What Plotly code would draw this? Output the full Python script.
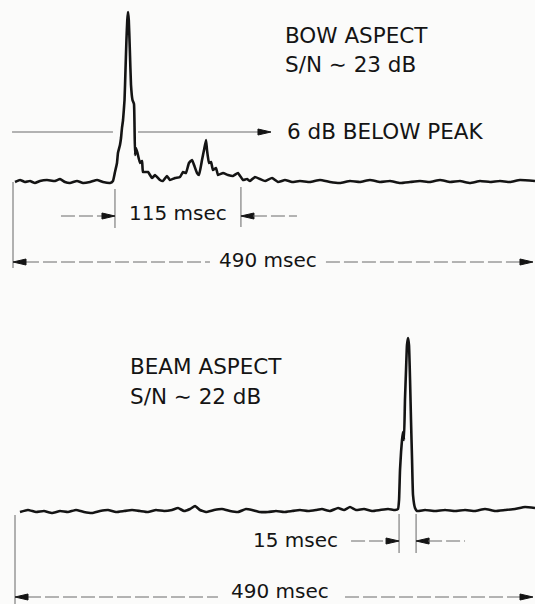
import plotly.graph_objects as go

# ---------------- data ----------------
# Bow aspect echo envelope (time in msec, amplitude in arbitrary units)
bow_t = [1.9, 6.6, 11.3, 16.0, 20.7, 25.4, 32.0, 39.6, 44.3, 49.0, 53.7, 60.3, 66.0, 72.6,
         79.2, 84.8, 91.4, 94.2, 96.1, 98.0, 98.9, 100.8, 101.8, 102.7, 103.7, 105.1, 106.0,
         106.9, 107.7, 108.4, 109.1, 110.1, 111.2, 112.6, 114.0, 114.5, 115.0, 115.9, 117.3,
         119.7, 121.6, 122.5, 127.2, 131.0, 133.8, 138.5, 141.3, 145.1, 147.9, 152.7, 157.4,
         160.2, 163.0, 165.8, 168.7, 170.6, 173.4, 175.3, 178.1, 180.0, 181.9, 182.8, 184.7,
         186.6, 188.4, 191.3, 193.2, 197.9, 202.6, 207.3, 212.0, 216.7, 220.5, 223.3, 228.0,
         232.7, 237.5, 244.1, 249.7, 256.3, 262.9, 270.4, 279.9, 289.3, 298.7, 308.1, 317.6,
         327.0, 336.4, 345.8, 355.2, 364.7, 374.1, 383.5, 392.9, 402.4, 411.8, 421.2, 430.6,
         440.1, 449.5, 458.9, 468.3, 477.7, 491.9]
bow_amp = [0, 2, 0, 1, -1, 1, 2, 1, 3, 0, -1, 1, -1, 0,
           2, 0, -1, 1, 10, 19, 29, 37, 44, 54, 62, 82, 112,
           142, 162, 170, 162, 132, 97, 82, 78, 57, 27, 34, 29,
           19, 21, 10, 10, 4, 7, 2, 1, 6, 2, 4, 5,
           10, 9, 19, 22, 17, 9, 7, 22, 32, 42, 32, 19,
           20, 12, 14, 7, 9, 7, 6, 9, 2, 3, 1, 5,
           3, 1, 4, 0, 2, 0, 1, 0, 2, 0, -1, 1,
           0, 2, 0, 1, -1, 0, 1, 0, 2, 0, 1, -1,
           1, 0, 1, 0, 2, 1]

# Beam aspect echo envelope
beam_t = [4.7, 12.3, 19.9, 27.4, 35.0, 42.6, 50.1, 57.7, 65.3, 72.8, 80.4, 88.0, 95.5, 103.1,
          110.7, 118.3, 125.8, 133.4, 141.0, 148.5, 154.2, 159.9, 165.6, 170.3, 175.0, 180.7,
          188.3, 195.8, 203.4, 211.0, 218.5, 224.2, 231.8, 239.4, 246.9, 254.5, 262.0, 269.6,
          277.2, 284.7, 290.4, 298.0, 305.6, 311.2, 316.9, 322.6, 330.2, 337.7, 345.3, 352.9,
          359.5, 362.3, 363.3, 364.2, 365.2, 366.1, 367.0, 368.0, 368.9, 369.9, 370.8, 371.8,
          372.7, 373.7, 374.6, 375.6, 376.5, 378.4, 380.3, 387.9, 397.3, 406.8, 416.2, 425.7,
          435.2, 444.6, 454.1, 463.5, 473.0, 482.5, 491.9]
beam_amp = [-1, 1, -1, 0, -2, 0, -1, 1, -1, -2, 0, 1, -1, 0,
            1, 0, -1, 1, 0, 1, 3, 0, 2, 5, 1, -1,
            1, 2, 0, -1, 2, 1, -1, -1, 0, -1, 0, 1,
            0, 1, 2, 0, 3, 1, 4, 1, 2, 0, 1, 2,
            1, 2, 11, 41, 59, 71, 79, 71, 111, 141, 166, 173,
            166, 131, 91, 51, 16, 3, 0, 1, 0, 1, 0, 1,
            0, 2, 0, 1, 2, 4, 3]

total_span_ms = 490
bow_pulse_ms = [96.1, 214.8]      # "115 msec" markers
beam_pulse_ms = [363.3, 379.4]    # "15 msec" markers
six_db_level = 50                 # 6 dB below peak reference line

labels = {
    "bow_title": "BOW ASPECT",
    "bow_sn": "S/N \u223c 23 dB",
    "six_db": "6 dB BELOW PEAK",
    "bow_width": "115 msec",
    "span": "490 msec",
    "beam_title": "BEAM ASPECT",
    "beam_sn": "S/N \u223c 22 dB",
    "beam_width": "15 msec",
}

# ---------------- figure ----------------
W, H = 535, 604
TOP_X = [-12.25, 491.9]
BOT_X = [-14.19, 491.9]
TOP_Y = [-118, 182]
BOT_Y = [-93, 211]
split = 1 - 300 / H

INK = "#141414"
GREY = "#6a6a6a"
FONT = dict(family="DejaVu Sans", size=20, color=INK)
FONT_CAPS = dict(family="DejaVu Sans", size=21.5, color=INK)
DASH = "14px,4px"

fig = go.Figure()
fig.add_trace(go.Scatter(x=bow_t, y=bow_amp, mode="lines", xaxis="x", yaxis="y",
                         line=dict(color=INK, width=2.6, shape="spline", smoothing=0.35),
                         hoverinfo="skip", showlegend=False))
fig.add_trace(go.Scatter(x=beam_t, y=beam_amp, mode="lines", xaxis="x2", yaxis="y2",
                         line=dict(color=INK, width=2.6, shape="spline", smoothing=0.35),
                         hoverinfo="skip", showlegend=False))

shapes = []
annotations = []

def seg(xr, yr, x0, y0, x1, y1, dash="solid", color=GREY, width=1):
    shapes.append(dict(type="line", xref=xr, yref=yr, x0=x0, y0=y0, x1=x1, y1=y1,
                       line=dict(color=color, width=width, dash=dash)))

def head(xr, yr, tip, y, direction, ms_per_px, length=13, half=3):
    # direction: +1 points right, -1 points left
    base = tip - direction * length * ms_per_px
    path = f"M {tip},{y} L {base},{y + half} L {base},{y - half} Z"
    shapes.append(dict(type="path", xref=xr, yref=yr, path=path,
                       fillcolor=INK, line=dict(color=INK, width=1)))

def text(xr, yr, x, y, s, xanchor="center", font=FONT):
    annotations.append(dict(xref=xr, yref=yr, x=x, y=y, text=s, showarrow=False,
                            xanchor=xanchor, yanchor="middle", font=font))

mpp_top = (TOP_X[1] - TOP_X[0]) / W
mpp_bot = (BOT_X[1] - BOT_X[0]) / W

# ---- top panel (bow aspect) ----
text("x", "y", 254.4, 147, labels["bow_title"], "left", FONT_CAPS)
text("x", "y", 254.4, 118, labels["bow_sn"], "left", FONT_CAPS)
text("x", "y", 256.3, 51, labels["six_db"], "left", FONT_CAPS)
# 6 dB line
seg("x", "y", -0.9, six_db_level, 94.2, six_db_level, color=GREY, width=1.2)
seg("x", "y", 117.8, six_db_level, 243.1 - 10 * mpp_top, six_db_level, color=GREY, width=1.2)
head("x", "y", 243.1, six_db_level, +1, mpp_top)
# total span
seg("x", "y", 0, 0, 0, -86, color="#666", width=1)
seg("x", "y", 12 * mpp_top, -80, 185.6, -80, dash=DASH)
seg("x", "y", 294.9, -80, total_span_ms - 12 * mpp_top, -80, dash=DASH)
head("x", "y", 0, -80, -1, mpp_top)
head("x", "y", total_span_ms, -80, +1, mpp_top)
text("x", "y", 240.3, -78, labels["span"])
# pulse width
seg("x", "y", bow_pulse_ms[0], -7, bow_pulse_ms[0], -46, color="#666", width=1)
seg("x", "y", bow_pulse_ms[1], -5, bow_pulse_ms[1], -45, color="#666", width=1)
seg("x", "y", 45.2, -34, bow_pulse_ms[0] - 12 * mpp_top, -34, dash=DASH)
head("x", "y", bow_pulse_ms[0], -34, +1, mpp_top)
head("x", "y", bow_pulse_ms[1], -34, -1, mpp_top)
seg("x", "y", bow_pulse_ms[1] + 12 * mpp_top, -34, 267.6, -34, dash=DASH)
text("x", "y", 155.5, -31, labels["bow_width"])

# ---- bottom panel (beam aspect) ----
text("x2", "y2", 106.9, 145, labels["beam_title"], "left", FONT_CAPS)
text("x2", "y2", 106.9, 115, labels["beam_sn"], "left", FONT_CAPS)
seg("x2", "y2", 0, -4, 0, -93, color="#666", width=1)
seg("x2", "y2", 12 * mpp_bot, -86, 192.0, -86, dash=DASH)
seg("x2", "y2", 312.2, -86, total_span_ms - 12 * mpp_bot, -86, dash=DASH)
head("x2", "y2", 0, -86, -1, mpp_bot)
head("x2", "y2", total_span_ms, -86, +1, mpp_bot)
text("x2", "y2", 250.7, -79.5, labels["span"])
seg("x2", "y2", beam_pulse_ms[0], -3, beam_pulse_ms[0], -42, color="#666", width=1)
seg("x2", "y2", beam_pulse_ms[1], -3, beam_pulse_ms[1], -42, color="#666", width=1)
seg("x2", "y2", 317.9, -30, beam_pulse_ms[0] - 12 * mpp_bot, -30, dash=DASH)
head("x2", "y2", beam_pulse_ms[0], -30, +1, mpp_bot)
head("x2", "y2", beam_pulse_ms[1], -30, -1, mpp_bot)
seg("x2", "y2", beam_pulse_ms[1] + 12 * mpp_bot, -30, 425.7, -30, dash=DASH)
text("x2", "y2", 264.9, -29, labels["beam_width"])

hidden = dict(visible=False, fixedrange=True, showgrid=False, zeroline=False)
fig.update_layout(
    width=W, height=H,
    margin=dict(l=0, r=0, t=0, b=0),
    paper_bgcolor="#fbfbfa", plot_bgcolor="#fbfbfa",
    xaxis=dict(domain=[0, 1], range=TOP_X, anchor="y", **hidden),
    yaxis=dict(domain=[split, 1], range=TOP_Y, anchor="x", **hidden),
    xaxis2=dict(domain=[0, 1], range=BOT_X, anchor="y2", **hidden),
    yaxis2=dict(domain=[0, split], range=BOT_Y, anchor="x2", **hidden),
    shapes=shapes,
    annotations=annotations,
    showlegend=False,
)

fig.write_html("out.html", config={"displayModeBar": False, "staticPlot": True},
               post_script="document.body.style.margin='0';")
